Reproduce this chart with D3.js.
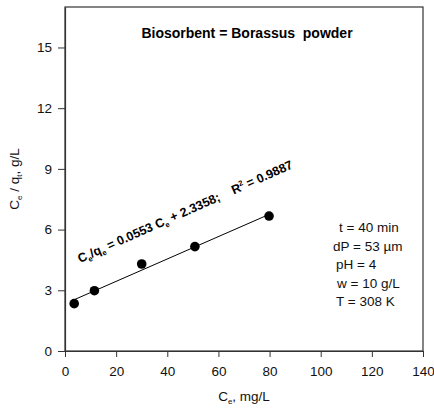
<!DOCTYPE html>
<html>
<head>
<meta charset="utf-8">
<script src="https://cdn.jsdelivr.net/npm/d3@7"></script>
<style>
  html, body { margin: 0; padding: 0; background: #fff; }
  svg { display: block; font-family: Arial, "Liberation Sans", sans-serif; }
  .pre { white-space: pre; }
</style>
</head>
<body>
<svg id="chart" width="434" height="408"></svg>
<script>
// Langmuir linear plot: Ce/qe against Ce
const ce = [3.6, 11.5, 30.0, 50.8, 79.8];
const ceOverQe = [2.34, 2.98, 4.30, 5.16, 6.67];
const slope = 0.0553;
const intercept = 2.3358;
const rSquared = 0.9887;
const xTicks = [0, 20, 40, 60, 80, 100, 120, 140];
const yTicks = [0, 3, 6, 9, 12, 15];
const conditions = ["t = 40 min", "dP = 53 \u00b5m", "pH = 4", "w = 10 g/L", "T = 308 K"];
const conditionOffsets = [3, -3, 0, 1, 0];

const svg = d3.select("#chart");
const plot = { left: 65, right: 423, top: 7, bottom: 351 };
const labelSize = 13.5;

const x = d3.scaleLinear().domain([0, 140]).range([plot.left, plot.right]);
const y = d3.scaleLinear().domain([0, 17]).range([plot.bottom, plot.top]);

// frame
svg.append("rect")
  .attr("x", plot.left).attr("y", plot.top)
  .attr("width", plot.right - plot.left).attr("height", plot.bottom - plot.top)
  .attr("fill", "none").attr("stroke", "#333").attr("stroke-width", 1.2);

// axes
const xAxis = svg.append("g")
  .attr("transform", `translate(0,${plot.bottom})`)
  .call(d3.axisBottom(x).tickValues(xTicks).tickSize(6).tickPadding(9).tickSizeOuter(0));
const yAxis = svg.append("g")
  .attr("transform", `translate(${plot.left},0)`)
  .call(d3.axisLeft(y).tickValues(yTicks).tickSize(7).tickPadding(6).tickSizeOuter(0));
[xAxis, yAxis].forEach(g => {
  g.select(".domain").attr("stroke", "#333").attr("stroke-width", 1.2);
  g.selectAll(".tick line").attr("stroke", "#333").attr("stroke-width", 1);
  g.selectAll(".tick text").attr("fill", "#111")
    .style("font-family", "Arial, 'Liberation Sans', sans-serif").style("font-size", labelSize + "px");
});

// fitted line
const x0 = d3.min(ce), x1 = d3.max(ce);
svg.append("line")
  .attr("x1", x(x0)).attr("y1", y(slope * x0 + intercept))
  .attr("x2", x(x1)).attr("y2", y(slope * x1 + intercept))
  .attr("stroke", "#000").attr("stroke-width", 1);

// data points
svg.selectAll("circle.pt")
  .data(ce.map((v, i) => [v, ceOverQe[i]]))
  .join("circle")
  .attr("class", "pt")
  .attr("cx", d => x(d[0])).attr("cy", d => y(d[1]))
  .attr("r", 4.8).attr("fill", "#000");

// title
svg.append("text")
  .attr("class", "pre")
  .attr("x", 247).attr("y", 38)
  .attr("text-anchor", "middle")
  .attr("font-weight", "bold").attr("font-size", 14)
  .text("Biosorbent = Borassus  powder");

// regression equation along the line
const eq = svg.append("text")
  .attr("class", "pre")
  .attr("transform", "translate(80,263) rotate(-24)")
  .attr("font-weight", "bold").attr("font-size", 12.5);
eq.append("tspan").text("C");
eq.append("tspan").attr("font-size", 7.5).attr("dy", 3).text("e");
eq.append("tspan").attr("dy", -3).text("/q");
eq.append("tspan").attr("font-size", 7.5).attr("dy", 3).text("e");
eq.append("tspan").attr("dy", -3).text(` = ${slope.toFixed(4)} C`);
eq.append("tspan").attr("font-size", 7.5).attr("dy", 3).text("e");
eq.append("tspan").attr("dy", -3).text(` + ${intercept.toFixed(4)};    R`);
eq.append("tspan").attr("font-size", 7.5).attr("dy", -5).text("2");
eq.append("tspan").attr("dy", 5).text(` = ${rSquared.toFixed(4)}`);

// experimental conditions
svg.append("g").selectAll("text")
  .data(conditions)
  .join("text")
  .attr("x", (d, i) => 336 + conditionOffsets[i])
  .attr("y", (d, i) => 232 + i * 18.5)
  .attr("font-size", labelSize).attr("fill", "#111")
  .text(d => d);

// axis titles
const yt = svg.append("text")
  .attr("transform", `translate(19,${(plot.top + plot.bottom) / 2}) rotate(-90)`)
  .attr("text-anchor", "middle").attr("font-size", labelSize).attr("fill", "#111");
yt.append("tspan").text("C");
yt.append("tspan").attr("font-size", 8).attr("dy", 3).text("e");
yt.append("tspan").attr("dy", -3).text(" / q");
yt.append("tspan").attr("font-size", 8).attr("dy", 3).text("t");
yt.append("tspan").attr("dy", -3).text(", g/L");

const xt = svg.append("text")
  .attr("x", (plot.left + plot.right) / 2).attr("y", 401)
  .attr("text-anchor", "middle").attr("font-size", labelSize).attr("fill", "#111");
xt.append("tspan").text("C");
xt.append("tspan").attr("font-size", 8).attr("dy", 3).text("e");
xt.append("tspan").attr("dy", -3).text(", mg/L");
</script>
</body>
</html>
